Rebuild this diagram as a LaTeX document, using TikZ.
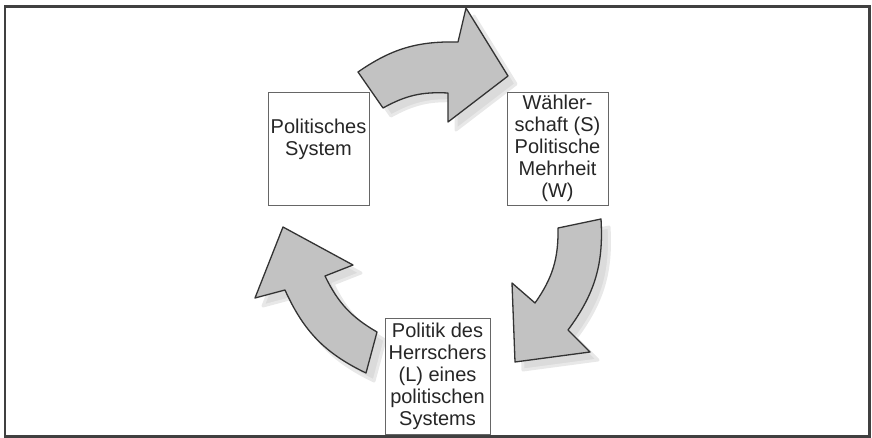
\documentclass[tikz,border=0pt]{standalone}
\usepackage{fontspec}
\setmainfont{Liberation Sans}
\def\ArrTop{(358,-72) to[bend left=18] (458,-42) -- (466,-8) -- (508,-76) -- (448,-122) -- (448,-93) to[bend right=16] (383,-108) -- cycle}
\def\ArrRight{(601,-219) to[bend left=20] (568,-330) -- (590,-352) -- (515,-362) -- (512,-283) -- (535,-303) to[bend right=18] (558,-228) -- cycle}
\def\ArrLeft{(366,-373) to[bend left=20] (285,-290) -- (255,-298) -- (283,-227) -- (353,-265) -- (325,-276) to[bend right=17] (377,-332) -- cycle}
\begin{document}
\begin{tikzpicture}[x=1pt,y=1pt,
  frame/.style={draw=black!75,line width=2.6},
  arrowshadow/.style={fill=black!14,draw=black!9,line width=3,line join=round},
  blockarrow/.style={fill=black!24,draw=black!80,line width=1.3,line join=round},
  box/.style={draw=black!60,fill=white,line width=0.9,inner sep=0pt,align=center,
    font=\fontsize{20}{22}\selectfont,text=black!85}]
\useasboundingbox (0,0) rectangle (872,-438);
\draw[frame] (5,-6.5) rectangle (869.5,-436.5);
% shadows
\begin{scope}[shift={(8,-8)}]
\path[arrowshadow] \ArrTop;
\path[arrowshadow] \ArrRight;
\path[arrowshadow] \ArrLeft;
\end{scope}
% arrows
\path[blockarrow] \ArrTop;
\path[blockarrow] \ArrRight;
\path[blockarrow] \ArrLeft;
% boxes
\node[box,minimum width=101,minimum height=113] (ps) at (318.5,-148.5) {Politisches\\System\\\mbox{}};
\node[box,minimum width=101,minimum height=113] (ws) at (557.5,-148.5) {Wähler-\\schaft (S)\\Politische\\Mehrheit\\(W)};
\node[box,minimum width=105,minimum height=116] (ph) at (437.5,-376) {Politik des\\Herrschers\\(L) eines\\politischen\\Systems};
\end{tikzpicture}
\end{document}
